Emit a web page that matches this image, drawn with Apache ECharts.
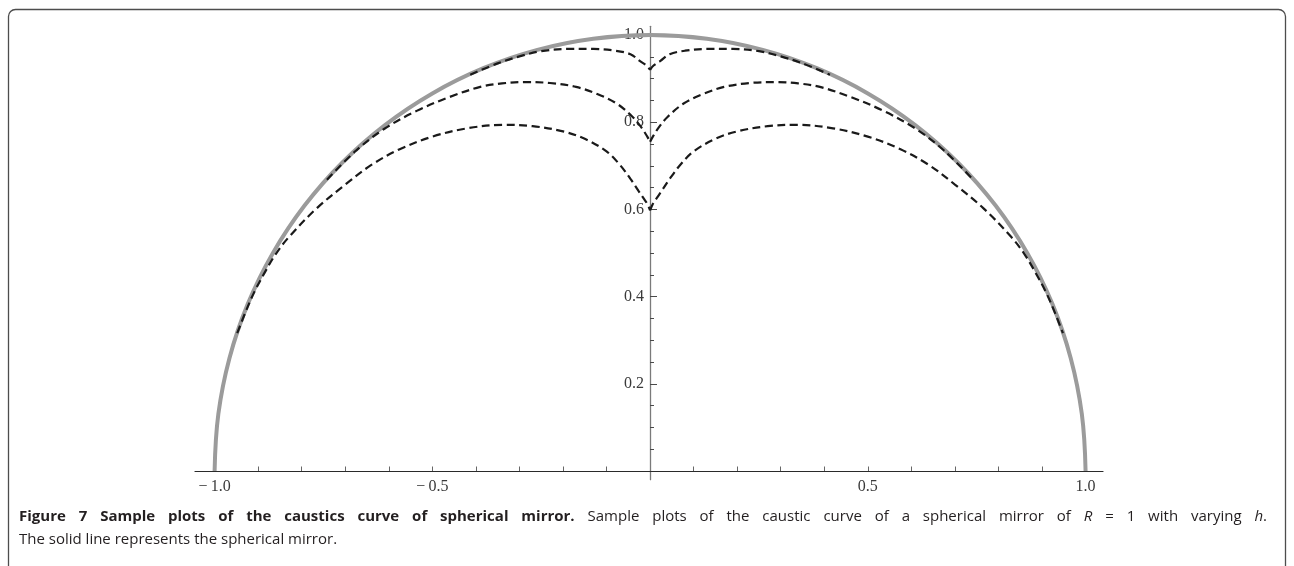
<!DOCTYPE html>
<html>
<head>
<meta charset="utf-8">
<script src="https://cdn.jsdelivr.net/npm/echarts@6.0.0/dist/echarts.min.js"></script>
<style>
  html, body { margin: 0; padding: 0; background: #fff; }
  #chart { width: 1294px; height: 566px; }
</style>
</head>
<body>
<div id="chart"></div>
<script>
// spherical mirror, R = 1 (upper half)
const mirror = [
  [-1, 0], [-0.9914, 0.1305], [-0.9659, 0.2588], [-0.9239, 0.3827], [-0.866, 0.5],
  [-0.7934, 0.6088], [-0.7071, 0.7071], [-0.6088, 0.7934], [-0.5, 0.866],
  [-0.3827, 0.9239], [-0.2588, 0.9659], [-0.1305, 0.9914], [0, 1],
  [0.1305, 0.9914], [0.2588, 0.9659], [0.3827, 0.9239], [0.5, 0.866],
  [0.6088, 0.7934], [0.7071, 0.7071], [0.7934, 0.6088], [0.866, 0.5],
  [0.9239, 0.3827], [0.9659, 0.2588], [0.9914, 0.1305], [1, 0]
]

// caustic curves (cusp on the y axis)
const outerLeft = [
  [-0.413, 0.909], [-0.35, 0.935], [-0.30, 0.951], [-0.25, 0.963], [-0.19, 0.968],
  [-0.13, 0.968], [-0.08, 0.964], [-0.045, 0.956], [-0.023, 0.940], [-0.008, 0.930], [0, 0.92]
]
const outerRight = [
  [0, 0.92], [0.008, 0.930], [0.023, 0.940], [0.045, 0.956], [0.08, 0.964], [0.13, 0.968],
  [0.19, 0.968], [0.25, 0.963], [0.30, 0.951], [0.35, 0.935], [0.413, 0.909]
]
const middleLeft = [
  [-0.742, 0.668], [-0.675, 0.735], [-0.61, 0.785], [-0.536, 0.826], [-0.46, 0.858],
  [-0.39, 0.881], [-0.34, 0.889], [-0.29, 0.892], [-0.23, 0.890], [-0.17, 0.881],
  [-0.12, 0.864], [-0.077, 0.843], [-0.04, 0.812], [-0.02, 0.788], [-0.007, 0.768], [0, 0.755]
]
const middleRight = [
  [0, 0.755], [0.007, 0.768], [0.02, 0.788], [0.04, 0.812], [0.077, 0.843], [0.12, 0.864],
  [0.17, 0.881], [0.23, 0.890], [0.29, 0.892], [0.34, 0.889], [0.39, 0.881], [0.46, 0.858],
  [0.536, 0.826], [0.61, 0.785], [0.675, 0.735], [0.742, 0.668]
]
const innerLeft = [
  [-0.948, 0.316], [-0.93, 0.362], [-0.91, 0.408], [-0.885, 0.455], [-0.86, 0.497],
  [-0.83, 0.536], [-0.765, 0.603], [-0.70, 0.657], [-0.64, 0.702], [-0.575, 0.738],
  [-0.50, 0.767], [-0.42, 0.786], [-0.337, 0.794], [-0.27, 0.791], [-0.20, 0.779],
  [-0.15, 0.762], [-0.10, 0.733], [-0.07, 0.703], [-0.045, 0.670], [-0.027, 0.643],
  [-0.014, 0.624], [-0.006, 0.612], [0, 0.598]
]
const innerRight = [
  [0, 0.598], [0.006, 0.612], [0.014, 0.624], [0.027, 0.643], [0.045, 0.670], [0.07, 0.703],
  [0.10, 0.733], [0.15, 0.762], [0.20, 0.779], [0.27, 0.791], [0.337, 0.794], [0.42, 0.786],
  [0.50, 0.767], [0.575, 0.738], [0.64, 0.702], [0.70, 0.657], [0.765, 0.603], [0.83, 0.536],
  [0.86, 0.497], [0.885, 0.455], [0.91, 0.408], [0.93, 0.362], [0.948, 0.316]
]

// axis ticks and labels
const xTicks = [-1, -0.9, -0.8, -0.7, -0.6, -0.5, -0.4, -0.3, -0.2, -0.1, 0.1, 0.2, 0.3, 0.4, 0.5, 0.6, 0.7, 0.8, 0.9, 1]
const xTickLabels = [-1, -0.5, 0.5, 1]
const yMajorTicks = [0.2, 0.4, 0.6, 0.8, 1]
const yMinorTicks = [0.05, 0.1, 0.15, 0.25, 0.3, 0.35, 0.45, 0.5, 0.55, 0.65, 0.7, 0.75, 0.85, 0.9, 0.95]

// caption, word by word: [style, text] pieces
const captionLine1 = [
  [['b', 'Figure']], [['b', '7']], [['b', 'Sample']], [['b', 'plots']], [['b', 'of']], [['b', 'the']],
  [['b', 'caustics']], [['b', 'curve']], [['b', 'of']], [['b', 'spherical']], [['b', 'mirror.']],
  [['r', 'Sample']], [['r', 'plots']], [['r', 'of']], [['r', 'the']], [['r', 'caustic']], [['r', 'curve']],
  [['r', 'of']], [['r', 'a']], [['r', 'spherical']], [['r', 'mirror']], [['r', 'of']], [['i', 'R']],
  [['r', '=']], [['r', '1']], [['r', 'with']], [['r', 'varying']], [['i', 'h'], ['r', '.']]
]
const captionLine2 = 'The solid line represents the spherical mirror.'

const capFamily = '"Open Sans", "Noto Sans", sans-serif'
const capSize = 15
const capFonts = {
  b: 'bold ' + capSize + 'px ' + capFamily,
  r: capSize + 'px ' + capFamily,
  i: 'italic ' + capSize + 'px ' + capFamily
}

// the first caption line is justified between x = 19 and x = 1267
const measure = document.createElement('canvas').getContext('2d')
let wordsWidth = 0
captionLine1.forEach(word => word.forEach(([s, t]) => {
  measure.font = capFonts[s]
  wordsWidth += measure.measureText(t).width
}))
const gapWidth = (1267 - 19 - wordsWidth) / (captionLine1.length - 1)
const line1Text = captionLine1
  .map(word => word.map(([s, t]) => '{' + s + '|' + t + '}').join(''))
  .join('{g|\u00a0}')

const chart = echarts.init(document.getElementById('chart'))

const dashed = {
  color: '#1a1a1a',
  width: 2.2,
  type: [8, 4.5],
  cap: 'butt'
}

function caustic(data) {
  return {
    type: 'line',
    data,
    smooth: 0.35,
    symbol: 'none',
    z: 3,
    lineStyle: dashed,
    silent: true
  }
}

const labelFont = {
  fontFamily: '"Liberation Serif", "DejaVu Serif", serif',
  fontSize: 16,
  color: '#3a3a3a'
}

// grid: x in [-1.045, 1.04], y in [-0.02, 1.02]; origin at (650, 471)
const gridLeft = 195
const gridTop = 26.3
const gridWidth = 908
const gridHeight = 453.4

chart.setOption({
  animation: false,
  grid: { left: gridLeft, top: gridTop, width: gridWidth, height: gridHeight, containLabel: false },
  xAxis: {
    type: 'value',
    min: -1.045,
    max: 1.04,
    offset: -8.7,
    axisLine: { onZero: false, lineStyle: { color: '#2a2a2a', width: 1.2 } },
    axisTick: {
      inside: true,
      length: 4.5,
      customValues: xTicks,
      lineStyle: { color: '#666', width: 1 }
    },
    axisLabel: {
      customValues: xTickLabels,
      margin: 8,
      ...labelFont,
      formatter: v => (v < 0 ? '\u2212\u2009' : '') + Math.abs(v).toFixed(1)
    },
    splitLine: { show: false }
  },
  yAxis: [
    {
      type: 'value',
      position: 'left',
      min: -0.02,
      max: 1.02,
      offset: -455,
      axisLine: { show: true, onZero: false, lineStyle: { color: '#7a7a7a', width: 1.3 } },
      axisTick: {
        inside: true,
        length: 7,
        customValues: yMajorTicks,
        lineStyle: { color: '#4a4a4a', width: 1 }
      },
      axisLabel: {
        customValues: yMajorTicks,
        margin: 6,
        ...labelFont,
        formatter: v => v.toFixed(1)
      },
      splitLine: { show: false }
    },
    {
      type: 'value',
      position: 'left',
      min: -0.02,
      max: 1.02,
      offset: -455,
      axisLine: { show: false, onZero: false },
      axisTick: {
        inside: true,
        length: 4,
        customValues: yMinorTicks,
        lineStyle: { color: '#4a4a4a', width: 1 }
      },
      axisLabel: { show: false },
      splitLine: { show: false }
    }
  ],
  series: [
    {
      type: 'line',
      data: mirror,
      smooth: 0.4,
      symbol: 'none',
      z: 1,
      silent: true,
      lineStyle: { color: '#9b9b9b', width: 4 }
    },
    caustic(outerLeft),
    caustic(outerRight),
    caustic(middleLeft),
    caustic(middleRight),
    caustic(innerLeft),
    caustic(innerRight)
  ],
  graphic: [
    {
      type: 'rect',
      silent: true,
      shape: { x: 8.5, y: 9.5, width: 1277, height: 640, r: 7 },
      style: { fill: 'none', stroke: '#4d4d4d', lineWidth: 1.3 }
    },
    {
      type: 'text',
      left: 19,
      top: 509,
      silent: true,
      style: {
        text: line1Text,
        fontFamily: capFamily,
        fontSize: capSize,
        fill: '#231f20',
        rich: {
          b: { fontFamily: capFamily, fontSize: capSize, fontWeight: 'bold', fill: '#231f20' },
          r: { fontFamily: capFamily, fontSize: capSize, fill: '#231f20' },
          i: { fontFamily: capFamily, fontSize: capSize, fontStyle: 'italic', fill: '#231f20' },
          g: { fontFamily: capFamily, fontSize: capSize, width: gapWidth }
        }
      }
    },
    {
      type: 'text',
      left: 19,
      top: 532,
      silent: true,
      style: {
        text: captionLine2,
        fontFamily: capFamily,
        fontSize: capSize,
        fill: '#231f20'
      }
    }
  ]
})
</script>
</body>
</html>
